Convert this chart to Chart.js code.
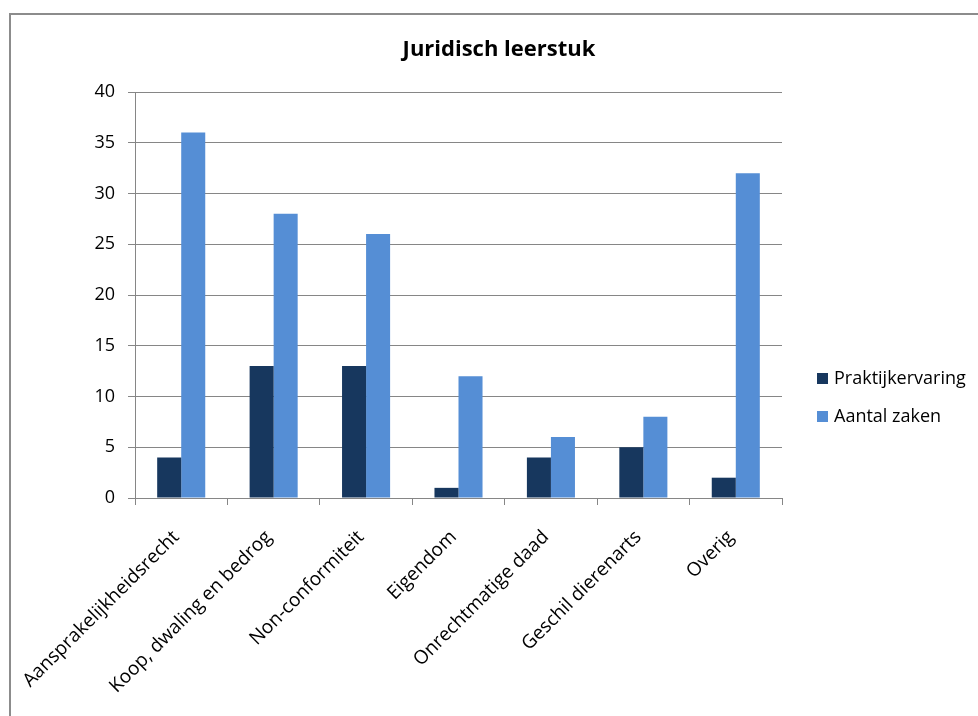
<!DOCTYPE html>
<html><head><meta charset="utf-8">
<script src="https://cdn.jsdelivr.net/npm/chart.js@4"></script>
<style>
html,body{margin:0;padding:0;background:#fff;overflow:hidden;}
#frame{position:absolute;left:9px;top:13px;width:990px;height:730px;border:2px solid #8c8c8c;box-sizing:border-box;}
#c{position:absolute;left:0;top:0;}
</style></head><body>
<div id="frame"></div>
<canvas id="c" width="978" height="716"></canvas>
<script>
const categories = ['Aansprakelijkheidsrecht','Koop, dwaling en bedrog','Non-conformiteit','Eigendom','Onrechtmatige daad','Geschil dierenarts','Overig'];
const praktijkervaring = [4, 13, 13, 1, 4, 5, 2];
const aantalZaken = [36, 28, 26, 12, 6, 8, 32];
const seriesNames = ['Praktijkervaring', 'Aantal zaken'];
const chartTitle = 'Juridisch leerstuk';
const yMin = 0, yMax = 40, yStep = 5;

const FONT = '"Open Sans", "Liberation Sans", sans-serif';
const GRID = '#868686';

const sideLegend = {
  id: 'sideLegend',
  afterDraw(chart) {
    const ctx = chart.ctx;
    ctx.save();
    ctx.font = '18px ' + FONT;
    ctx.textBaseline = 'middle';
    ctx.textAlign = 'left';
    chart.data.datasets.forEach((ds, i) => {
      const y = 379 + i * 38;
      ctx.fillStyle = ds.backgroundColor;
      ctx.fillRect(817, y - 6, 11, 11);
      ctx.fillStyle = '#000';
      ctx.fillText(ds.label, 834, y);
    });
    ctx.restore();
  }
};

function build() {
  new Chart(document.getElementById('c'), {
    type: 'bar',
    data: {
      labels: categories,
      datasets: [
        { label: seriesNames[0], data: praktijkervaring, backgroundColor: '#17375E', categoryPercentage: 0.52, barPercentage: 1.0 },
        { label: seriesNames[1], data: aantalZaken, backgroundColor: '#558ED5', categoryPercentage: 0.52, barPercentage: 1.0 }
      ]
    },
    options: {
      responsive: false,
      animation: false,
      devicePixelRatio: 1,
      layout: { padding: { top: 15, left: 20, right: 0, bottom: 0 } },
      plugins: {
        legend: { display: false },
        tooltip: { enabled: false },
        title: {
          display: true,
          text: chartTitle,
          color: '#000',
          font: { family: FONT, size: 22, weight: 'bold' },
          padding: { top: 21.4, bottom: 29.2 }
        }
      },
      scales: {
        x: {
          grid: { display: true, drawOnChartArea: false, drawTicks: true, tickLength: 7, offset: true, color: GRID },
          border: { display: true, color: GRID, width: 1 },
          ticks: { color: '#000', font: { family: FONT, size: 19 }, minRotation: 45, maxRotation: 45, autoSkip: false, padding: 21, labelOffset: -5 },
          afterFit: s => { s.height = 218; }
        },
        y: {
          min: yMin, max: yMax,
          ticks: { stepSize: yStep, color: '#000', font: { family: FONT, size: 18 }, padding: 13 },
          grid: { color: GRID, drawTicks: true, tickLength: 7 },
          border: { display: true, color: GRID, width: 1 },
          afterFit: s => { s.width = 115; }
        },
        yR: {
          position: 'right',
          display: true,
          grid: { display: false, drawTicks: false },
          ticks: { display: false },
          border: { display: false },
          afterFit: s => { s.width = 196; }
        }
      }
    },
    plugins: [sideLegend]
  });
}
if (document.fonts && document.fonts.load) {
  Promise.all([document.fonts.load('18px "Open Sans"'), document.fonts.load('19px "Open Sans"'), document.fonts.load('bold 22px "Open Sans"')]).then(build, build);
} else { build(); }
</script>
</body></html>
